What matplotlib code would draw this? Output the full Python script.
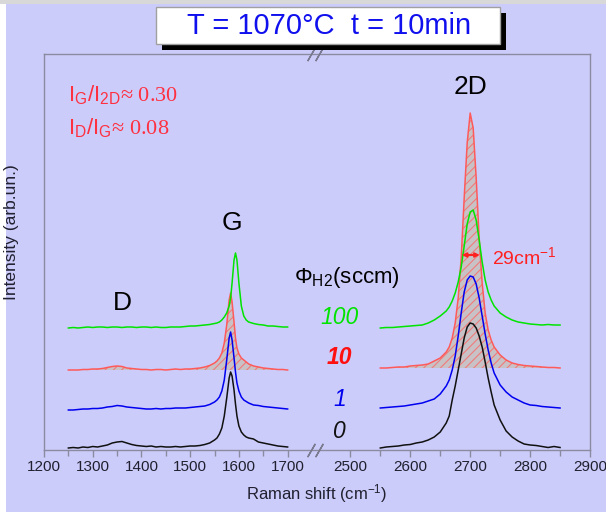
import numpy as np
import matplotlib.pyplot as plt
import matplotlib.transforms as mtransforms
from matplotlib.patches import Rectangle
from matplotlib.ticker import FixedLocator, NullLocator

plt.rcParams['font.family'] = ['Liberation Sans', 'DejaVu Sans']
plt.rcParams['mathtext.fontset'] = 'custom'
plt.rcParams['mathtext.rm'] = 'Liberation Sans'
plt.rcParams['mathtext.it'] = 'Liberation Sans:italic'
plt.rcParams['hatch.linewidth'] = 0.8

# Raman shift sampling (cm-1): D/G window and 2D window
shift_left = [1250, 1260, 1270, 1280, 1290, 1300, 1310, 1320, 1330, 1340, 1350, 1360, 1370,
              1380, 1390, 1400, 1410, 1420, 1430, 1440, 1450, 1460, 1470, 1480, 1490, 1500,
              1510, 1520, 1530, 1540, 1550, 1555, 1560, 1565, 1570, 1575, 1580, 1583, 1586,
              1590, 1593, 1596, 1600, 1605, 1610, 1615, 1620, 1630, 1640, 1650, 1660, 1670,
              1680, 1690, 1700]
shift_right = [2550, 2560, 2570, 2580, 2590, 2600, 2610, 2620, 2630, 2640, 2650, 2660, 2665,
               2670, 2675, 2680, 2685, 2690, 2695, 2700, 2705, 2710, 2715, 2720, 2725, 2730,
               2735, 2740, 2750, 2760, 2770, 2780, 2790, 2800, 2810, 2820, 2830, 2840, 2850]

# spectra (arb. un.), each above its own baseline
black_left = [0, 0.5, 0, 1, 0.5, 1.5, 1, 2, 3, 5, 6, 6.5, 5, 3.5, 2.5, 2, 1.5, 2, 1, 1.5, 1, 1,
              1.5, 1, 1.5, 2, 2, 2.5, 3.5, 5, 8, 10, 14, 20, 32, 50, 70, 76, 72, 58, 44, 32, 22,
              16, 13, 11, 10, 9, 6, 5, 4, 3, 2, 1.5, 1]
blue_left = [0, 0, 0.5, 1, 1, 1.5, 1.5, 2, 3, 3.5, 4.5, 4, 3, 2.5, 2, 1.5, 1, 1, 1.5, 1, 1.5,
             1.5, 2, 2, 2, 2.5, 3, 3.5, 4, 5.5, 8, 10, 13, 19, 30, 50, 72, 78, 70, 52, 38, 27,
             19, 13, 10, 8.5, 7, 5, 4.5, 3.5, 3, 2.5, 2, 1.5, 1]
red_left = [0, 0, 0, 0.5, 0.5, 1, 1, 1.5, 2.5, 3.5, 4, 3.5, 2, 1.5, 1, 0.5, 0.5, 0, 0.5, 0.5, 0,
            0.5, 1, 0.5, 1, 1, 1.5, 2, 3, 4.5, 7, 9, 12, 17, 27, 45, 70, 77, 68, 48, 32, 22, 16,
            12, 10, 8, 6, 4, 3, 2, 1.5, 1, 0.5, 0.5, 0]
green_left = [0, 0.5, 0, 0.5, 1, 0.5, 1, 1, 0.5, 1, 1, 0.5, 1, 1, 0.5, 1, 1, 0.5, 1, 0.5, 0.5,
              1, 1, 1, 1.5, 2, 2, 2.5, 3, 3.5, 4.5, 5, 6, 8, 11, 15, 22, 30, 45, 68, 75, 68, 45,
              22, 12, 8, 6, 4.5, 3.5, 3, 2, 2, 1.5, 1, 1]

black_right = [0, 1, 1.5, 2, 3, 3.5, 5, 6, 8, 11, 16, 25, 32, 48, 62, 78, 94, 110, 121, 125, 124,
               120, 112, 101, 86, 70, 56, 43, 28, 17, 11, 7, 4, 3, 2.5, 1.5, 0.5, 1.5, 0.5]
blue_right = [0, 0.5, 1, 1.5, 2, 3, 4, 5, 7, 9, 14, 22, 28, 38, 52, 72, 95, 116, 128, 132, 131,
              124, 110, 92, 74, 58, 45, 35, 23, 16, 11, 8, 5, 3, 2.5, 1.5, 1, 0.5, 0]
red_right = [0, 0, 0.5, 1, 1, 2, 2.5, 3, 4, 7, 10, 16, 21, 30, 45, 70, 110, 170, 225, 255, 240,
             190, 130, 85, 55, 38, 28, 21, 13, 8, 5, 3.5, 2.5, 2, 1.5, 1, 0.5, 0.5, 0]
green_right = [0, 0.5, 0.5, 1, 1.5, 2, 2.5, 3, 5, 8, 12, 17, 21, 27, 35, 46, 61, 82, 104, 116,
               118, 108, 88, 66, 48, 36, 28, 22, 15, 11, 8, 6, 5, 4, 3.5, 3, 3.5, 3, 3]

flow_labels = ['0', '1', '10', '100']
offsets_left = [2, 40, 80, 122]
offsets_right = [2, 42, 82, 122]
colors = ['#111111', '#0000f0', '#ff5a5a', '#00e400']

major_ticks = [1200, 1300, 1400, 1500, 1600, 1700, 2500, 2600, 2700, 2800, 2900]
minor_ticks = [1250, 1350, 1450, 1550, 1650, 2550, 2650, 2750, 2850]

# broken axis: 1200-1755 then 2440-2900, with different stretch
cut_lo, cut_hi = 1755, 2440
k_lo, k_hi = 0.488, 0.6
u_cut = (cut_lo - 1200) * k_lo


def fwd(x):
    x = np.asarray(x, dtype=float)
    return np.where(x <= cut_lo, (x - 1200) * k_lo,
                    np.where(x >= cut_hi, u_cut + (x - cut_hi) * k_hi, u_cut))


def inv(u):
    u = np.asarray(u, dtype=float)
    return np.where(u <= u_cut, 1200 + u / k_lo, cut_hi + (u - u_cut) / k_hi)


bg = '#ccccfa'
fig = plt.figure(figsize=(6.06, 5.12), dpi=100, facecolor=bg)
W, H = 606, 512
ax = fig.add_axes([44 / W, 1 - 450 / H, 546 / W, 396 / H])
ax.set_facecolor(bg)
ax.set_xscale('function', functions=(fwd, inv))
ax.set_xlim(1200, 2900)
ax.set_ylim(0, 396)

left_sets = [black_left, blue_left, red_left, green_left]
right_sets = [black_right, blue_right, red_right, green_right]
for i in range(4):
    yl = np.array(left_sets[i]) + offsets_left[i]
    yr = np.array(right_sets[i]) + offsets_right[i]
    if flow_labels[i] == '10':
        for xs, ys, off in [(shift_left, yl, offsets_left[i]), (shift_right, yr, offsets_right[i])]:
            ax.fill_between(xs, off, ys, facecolor='#c8c2c6', edgecolor='#f07a7a',
                            hatch='////', linewidth=0, zorder=1)
    ax.plot(shift_left, yl, color=colors[i], lw=1.1, zorder=3)
    ax.plot(shift_right, yr, color=colors[i], lw=1.1, zorder=3)

# axes styling
for s in ax.spines.values():
    s.set_color('#8a8aa0')
    s.set_linewidth(1.0)
ax.xaxis.set_major_locator(FixedLocator(major_ticks))
ax.xaxis.set_minor_locator(FixedLocator(minor_ticks))
ax.xaxis.set_major_formatter(plt.FixedFormatter([str(t) for t in major_ticks]))
ax.yaxis.set_major_locator(NullLocator())
ax.tick_params(axis='x', which='major', direction='out', length=5, width=1,
               color='#8a8aa0', labelsize=11, labelcolor='#202030', pad=2)
ax.tick_params(axis='x', which='minor', direction='out', length=4, width=1, color='#8a8aa0')
ax.set_xlabel('Raman shift (cm$^{\\mathregular{-1}}$)', fontsize=12, color='#202030', labelpad=6)
fig.text(12 / W, 1 - 232 / H, 'Intensity (arb.un.)', rotation=90, ha='center', va='center',
         fontsize=12.5, color='#202030')

# axis break marks
bt = mtransforms.blended_transform_factory(ax.transData, ax.transAxes)
for yy in (0, 1):
    ax.plot([1747, 2447], [yy, yy], transform=bt, linestyle='none', marker=(2, 2, -30),
            markersize=11, markeredgewidth=1, color='#7a7a90', clip_on=False, zorder=5)

# band labels
ax.text(1360, 147, 'D', fontsize=19, ha='center', va='center')
ax.text(1585, 227, 'G', fontsize=19, ha='center', va='center')
ax.text(2700, 363, '2D', fontsize=19, ha='center', va='center')

ax.text(1249, 355, r'$\mathrm{I_G/I_{2D}}$≈ 0.30', fontsize=16, color='#ff3040',
        family='Liberation Serif', ha='left', va='center')
ax.text(1249, 322, r'$\mathrm{I_D/I_G}$≈ 0.08', fontsize=16, color='#ff3040',
        family='Liberation Serif', ha='left', va='center')

# flow rate labels
ax.text(2495, 172, r'$\Phi_{\mathrm{H2}}$(sccm)', fontsize=16, ha='center', va='center')
label_y = [18, 50, 93, 133]
for i in range(4):
    ax.text(2482, label_y[i], flow_labels[i], fontsize=16.5, style='italic',
            fontweight='bold' if flow_labels[i] == '10' else 'normal',
            color=colors[i] if flow_labels[i] != '10' else '#ff1010', ha='center', va='center')

# FWHM of 2D
ax.annotate('', xy=(2686, 195), xytext=(2716, 195),
            arrowprops=dict(arrowstyle='<|-|>', color='#ff2020', lw=1.5, shrinkA=0, shrinkB=0,
                            mutation_scale=6))
ax.text(2737, 193, '29cm$^{\\mathregular{-1}}$', fontsize=14, color='#ff2020', ha='left', va='center')

# title box with shadow
fig.add_artist(Rectangle(((156 + 6) / W, 1 - (44 + 6) / H), 344 / W, 37 / H,
                         transform=fig.transFigure, facecolor='black', edgecolor='none'))
fig.add_artist(Rectangle((156 / W, 1 - 44 / H), 344 / W, 37 / H, transform=fig.transFigure,
                         facecolor='white', edgecolor='#a0a0a0', lw=1))
fig.text(329 / W, 1 - 26 / H, 'T = 1070°C  t = 10min', fontsize=21, color='#1010ee',
         ha='center', va='center')

# page edges
fig.add_artist(Rectangle((0, 1 - 4 / H), 1, 4 / H, transform=fig.transFigure,
                         facecolor='#d8d8d8', edgecolor='none'))
fig.add_artist(Rectangle((0, 0), 6 / W, 1 - 4 / H, transform=fig.transFigure,
                         facecolor='white', edgecolor='none'))

fig.savefig('out.png', dpi=100, facecolor=bg)
